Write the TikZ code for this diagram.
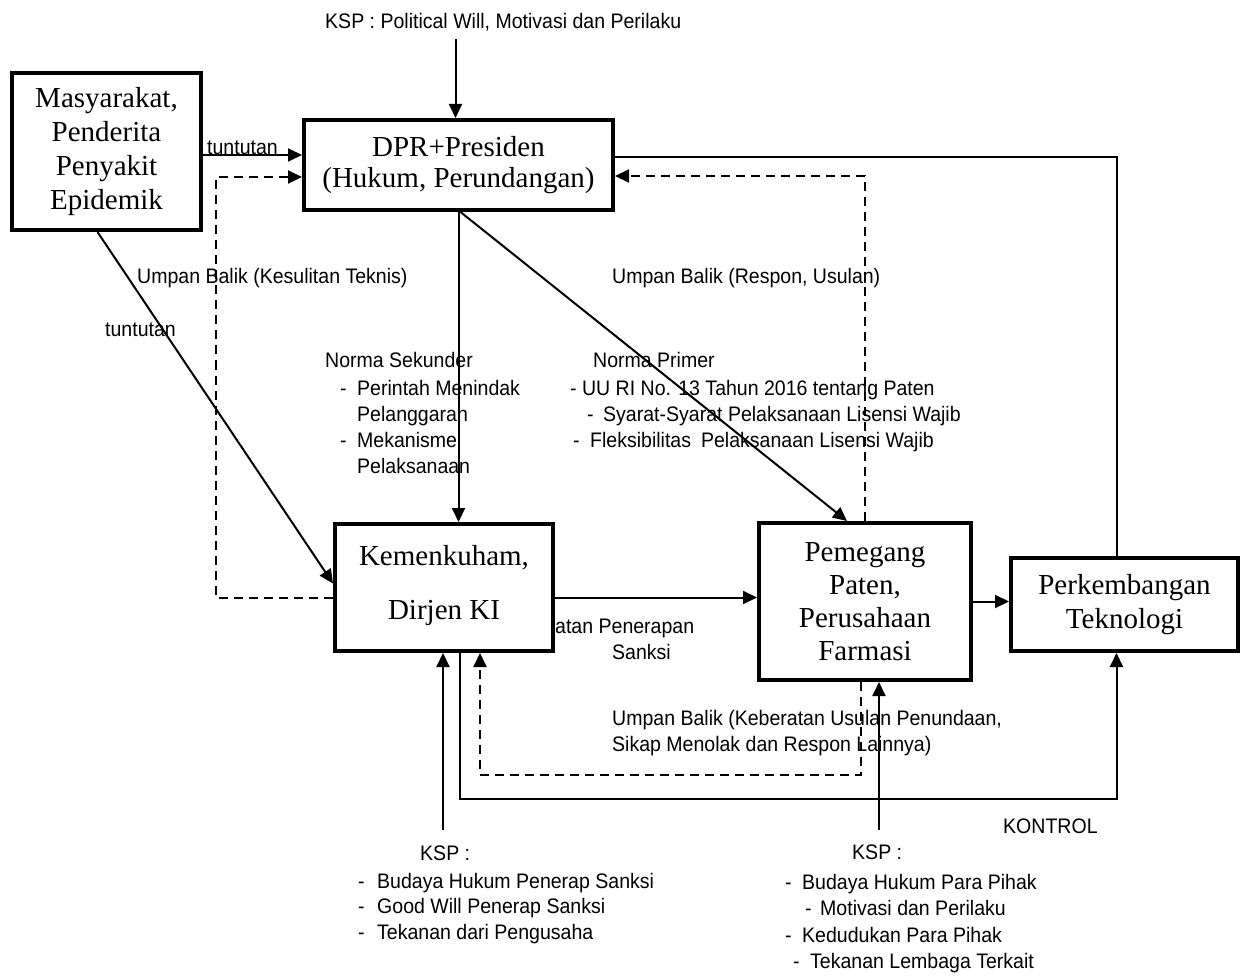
\documentclass[tikz,border=0pt]{standalone}
\usepackage{fontspec}
\setmainfont{Liberation Serif}
\newfontfamily\lblfont{Liberation Sans}[FakeStretch=0.93]
\usetikzlibrary{arrows.meta}

\tikzset{
  box/.style={draw, fill=white, line width=4pt, inner sep=0pt, align=center,
    font=\fontsize{29}{34}\selectfont},
  lbl/.style={inner sep=0pt, align=left, font=\lblfont\fontsize{21}{26}\selectfont},
  con/.style={line width=2pt},
  arr/.style={con, -{Triangle[length=14pt,width=13pt]}},
  fb/.style={arr, dash pattern=on 9pt off 6pt},
}

\begin{document}
\begin{tikzpicture}[x=1pt,y=-1pt]
\useasboundingbox (0,0) rectangle (1240,976);

% labels
\node[lbl, anchor=west] (kspTop) at (325,22) {KSP : Political Will, Motivasi dan Perilaku};
\node[lbl, anchor=base west] (tnt1) at (207,155) {tuntutan};
\node[lbl, anchor=west] (ubKes) at (137,278) {Umpan Balik (Kesulitan Teknis)};
\node[lbl, anchor=west] (tnt2) at (105,330) {tuntutan};
\node[lbl, anchor=north west] (nSek) at (325,352) {Norma Sekunder\\[2pt]
  \hspace*{15pt}-\hspace{10.5pt}Perintah Menindak\\
  \hspace*{32pt}Pelanggaran\\
  \hspace*{15pt}-\hspace{10.5pt}Mekanisme\\
  \hspace*{32pt}Pelaksanaan};
\node[lbl, anchor=north west] (nPri) at (570,352) {\hspace*{23pt}Norma Primer\\[2pt]
  - UU RI No. 13 Tahun 2016 tentang Paten\\
  \hspace*{17pt}-\hspace{9.5pt}Syarat-Syarat Pelaksanaan Lisensi Wajib\\
  \hspace*{3pt}-\hspace{10.5pt}Fleksibilitas\hspace{10pt}Pelaksanaan Lisensi Wajib};
\node[lbl, anchor=west] (ubRes) at (612,278) {Umpan Balik (Respon, Usulan)};
\node[lbl, anchor=north west] (sanksi) at (555,619) {atan Penerapan\\\hspace*{57pt}Sanksi};
\node[lbl, anchor=north west] (ubKeb) at (612,710) {Umpan Balik (Keberatan Usulan Penundaan,\\Sikap Menolak dan Respon Lainnya)};
\node[lbl, anchor=west] (kontrol) at (1003,826) {KONTROL};
\node[lbl, anchor=north west, font=\lblfont\fontsize{21}{25.5}\selectfont] (kspL) at (358,846) {\hspace*{62pt}KSP :\\[2pt]
  -\hspace{12.5pt}Budaya Hukum Penerap Sanksi\\
  -\hspace{12.5pt}Good Will Penerap Sanksi\\
  -\hspace{12.5pt}Tekanan dari Pengusaha};
\node[lbl, anchor=north west, font=\lblfont\fontsize{21}{26.5}\selectfont] (kspR) at (785,845) {\hspace*{67pt}KSP :\\[3pt]
  -\hspace{10.5pt}Budaya Hukum Para Pihak\\
  \hspace*{20pt}-\hspace{8.5pt}Motivasi dan Perilaku\\
  -\hspace{10.5pt}Kedudukan Para Pihak\\
  \hspace*{8pt}-\hspace{10.5pt}Tekanan Lembaga Terkait};

% boxes
\node[box, minimum width=189pt, minimum height=157pt] (mas) at (106.5,151.5) {Masyarakat,\\Penderita\\Penyakit\\Epidemik};
\node[box, minimum width=309pt, minimum height=90pt] (dpr) at (458.5,165) {DPR+Presiden\\[-3pt](Hukum, Perundangan)};
\node[box, minimum width=218pt, minimum height=127pt] (kem) at (444,587.5) {Kemenkuham,\\[20pt]Dirjen KI\\[-24pt]};
\node[box, minimum width=212pt, minimum height=157pt] (pem) at (865,601.5) {Pemegang\\[-1pt]Paten,\\[-1pt]Perusahaan\\[-1pt]Farmasi};
\node[box, minimum width=227pt, minimum height=93pt] (per) at (1124.5,604.5) {Perkembangan\\Teknologi};

% connectors
\draw[arr] ([xshift=-3pt,yshift=-8pt]dpr.north |- kspTop.south) -- ([xshift=-3pt]dpr.north);
\draw[arr] ([yshift=-3.5pt]mas.east) -- ([yshift=-3.5pt]mas.east -| dpr.west);
\draw[fb] ([yshift=-10pt]kem.west) -| ([xshift=-86pt,yshift=-12pt]dpr.west) -- ([yshift=-12pt]dpr.west);
\draw[arr] ([xshift=-9pt]mas.south) -- ([yshift=4pt]kem.west);
\draw[arr] (dpr.south) -- (dpr.south |- kem.north);
\draw[arr] ([xshift=2pt]dpr.south) -- ([xshift=-18pt]pem.north);
\draw[fb] (pem.north) |- ([yshift=-11pt]dpr.east);
\draw[arr] ([yshift=-10pt]kem.east) -- ([yshift=-10pt]kem.east -| pem.west);
\draw[arr] (pem.east) -- (pem.east -| per.west);
\draw[con] ([xshift=-8pt]per.north) |- ([yshift=8pt]dpr.east);
\coordinate (kL) at (443,830);
\draw[arr] (kL) -- (kL |- kem.south);
\draw[arr] ([xshift=16pt]kem.south) |- ([xshift=-8pt,yshift=-146pt]per.south) -- ([xshift=-8pt]per.south);
\draw[fb] ([xshift=-4pt]pem.south) |- ([xshift=36pt,yshift=-122pt]kem.south) -- ([xshift=36pt]kem.south);
\coordinate (kR) at (879,830);
\draw[arr] (kR) -- (kR |- pem.south);
\end{tikzpicture}
\end{document}
